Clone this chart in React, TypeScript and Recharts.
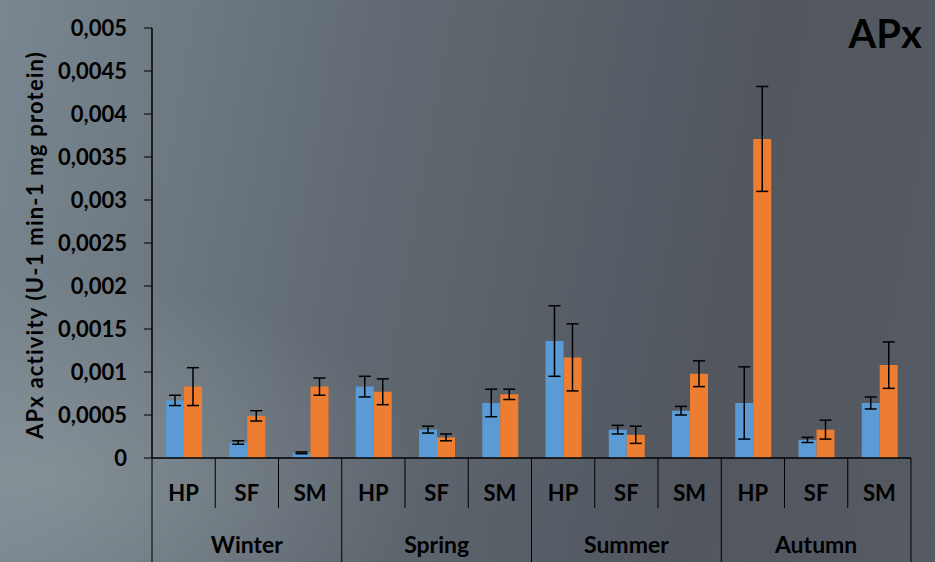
import { BarChart, Bar, XAxis, YAxis, ErrorBar } from "recharts";

// categories and seasons
const samples = ["HP", "SF", "SM", "HP", "SF", "SM", "HP", "SF", "SM", "HP", "SF", "SM"];
const seasons = ["Winter", "Winter", "Winter", "Spring", "Spring", "Spring", "Summer", "Summer", "Summer", "Autumn", "Autumn", "Autumn"];

// blue series + error
const blueValues = [0.00067, 0.00018, 0.00006, 0.00083, 0.00033, 0.00064, 0.00136, 0.00033, 0.00055, 0.00064, 0.00021, 0.00064];
const blueErrors = [0.00006, 0.00002, 0.00001, 0.00012, 0.00004, 0.00016, 0.00041, 0.00005, 0.00005, 0.00042, 0.00003, 0.00007];

// orange series + error
const orangeValues = [0.00083, 0.00049, 0.00083, 0.00077, 0.00024, 0.00074, 0.00117, 0.00027, 0.00098, 0.00371, 0.00033, 0.00108];
const orangeErrors = [0.00022, 0.00006, 0.0001, 0.00015, 0.00004, 0.00006, 0.00039, 0.0001, 0.00015, 0.00061, 0.00011, 0.00027];

const yTicks = [0, 0.0005, 0.001, 0.0015, 0.002, 0.0025, 0.003, 0.0035, 0.004, 0.0045, 0.005];

const data = samples.map((s, i) => ({
    cat: s,
    season: seasons[i],
    blue: blueValues[i],
    blueErr: blueErrors[i],
    orange: orangeValues[i],
    orangeErr: orangeErrors[i],
}));

const W = 935;
const H = 562;
const PLOT_LEFT = 152;
const PLOT_RIGHT = 911;
const PLOT_TOP = 28;
const PLOT_BOTTOM = 458;
const HALF_BAND = (PLOT_RIGHT - PLOT_LEFT) / samples.length / 2;
const FONT = "Lato, 'Open Sans', sans-serif";

const SampleTick = (props: any) => {
    const { x, payload } = props;
    const i = payload.index;
    return (
        <g>
            <line x1={x - HALF_BAND} x2={x - HALF_BAND} y1={PLOT_BOTTOM} y2={508} stroke="#000" strokeWidth={1} />
            {i === samples.length - 1 && (
                <line x1={x + HALF_BAND} x2={x + HALF_BAND} y1={PLOT_BOTTOM} y2={508} stroke="#000" strokeWidth={1} />
            )}
            <text x={x} y={501} textAnchor="middle" fontFamily={FONT} fontWeight={700} fontSize={22} fill="#000">
                {payload.value}
            </text>
        </g>
    );
};

const SeasonTick = (props: any) => {
    const { x, payload } = props;
    const i = payload.index;
    return (
        <g>
            {i % 3 === 0 && (
                <line x1={x - HALF_BAND} x2={x - HALF_BAND} y1={508} y2={H} stroke="#000" strokeWidth={1} />
            )}
            {i === samples.length - 1 && (
                <line x1={x + HALF_BAND} x2={x + HALF_BAND} y1={508} y2={H} stroke="#000" strokeWidth={1} />
            )}
            {i % 3 === 1 && (
                <text x={x} y={553} textAnchor="middle" fontFamily={FONT} fontWeight={700} fontSize={23} fill="#000">
                    {payload.value}
                </text>
            )}
        </g>
    );
};

const YLabel = (props: any) => {
    const { viewBox } = props;
    const cx = 37;
    const cy = viewBox.y + viewBox.height / 2 + 2;
    return (
        <text
            x={cx}
            y={cy}
            transform={`rotate(-90 ${cx} ${cy})`}
            textAnchor="middle"
            dominantBaseline="middle"
            fontFamily={FONT}
            fontWeight={700}
            fontSize={22}
            letterSpacing={1.2}
            fill="#000"
        >
            APx activity (U-1 min-1 mg protein)
        </text>
    );
};

export default function App() {
    return (
        <div
            style={{
                position: "fixed",
                left: 0,
                top: 0,
                width: W,
                height: H,
                overflow: "hidden",
                background:
                    "radial-gradient(ellipse at 5% 85%, rgba(150,160,166,0.5) 0%, rgba(150,160,166,0) 30%), linear-gradient(100deg, #7a8790 0%, #616a72 38%, #51565f 75%, #565b63 100%)",
            }}
        >
            <div
                style={{
                    position: "absolute",
                    right: 13,
                    top: 9,
                    fontFamily: FONT,
                    fontWeight: 700,
                    fontSize: 40,
                    color: "#000",
                }}
            >
                APx
            </div>
            <BarChart
                width={W}
                height={H}
                data={data}
                margin={{ top: PLOT_TOP, right: W - PLOT_RIGHT, left: 0, bottom: 0 }}
                barSize={18}
                barGap={0}
            >
                <XAxis
                    dataKey="cat"
                    height={50}
                    interval={0}
                    axisLine={{ stroke: "#000", strokeWidth: 1.5 }}
                    tickLine={false}
                    tickSize={0}
                    tick={<SampleTick />}
                />
                <XAxis
                    dataKey="season"
                    xAxisId="season"
                    height={H - PLOT_BOTTOM - 50}
                    interval={0}
                    axisLine={false}
                    tickLine={false}
                    tickSize={0}
                    tick={<SeasonTick />}
                />
                <YAxis
                    width={PLOT_LEFT}
                    domain={[0, 0.005]}
                    ticks={yTicks}
                    interval={0}
                    axisLine={{ stroke: "#000", strokeWidth: 1.5 }}
                    tickLine={{ stroke: "#000" }}
                    tickSize={8}
                    tickMargin={17}
                    tick={{ fontFamily: FONT, fontWeight: 700, fontSize: 22, fill: "#000" }}
                    tickFormatter={(v: number) => String(v).replace(".", ",")}
                    label={<YLabel />}
                />
                <Bar dataKey="blue" fill="#5b9bd5" isAnimationActive={false}>
                    <ErrorBar dataKey="blueErr" width={6} stroke="#000" strokeWidth={1.5} direction="y" />
                </Bar>
                <Bar dataKey="orange" fill="#ed7d31" isAnimationActive={false}>
                    <ErrorBar dataKey="orangeErr" width={6} stroke="#000" strokeWidth={1.5} direction="y" />
                </Bar>
            </BarChart>
        </div>
    );
}
